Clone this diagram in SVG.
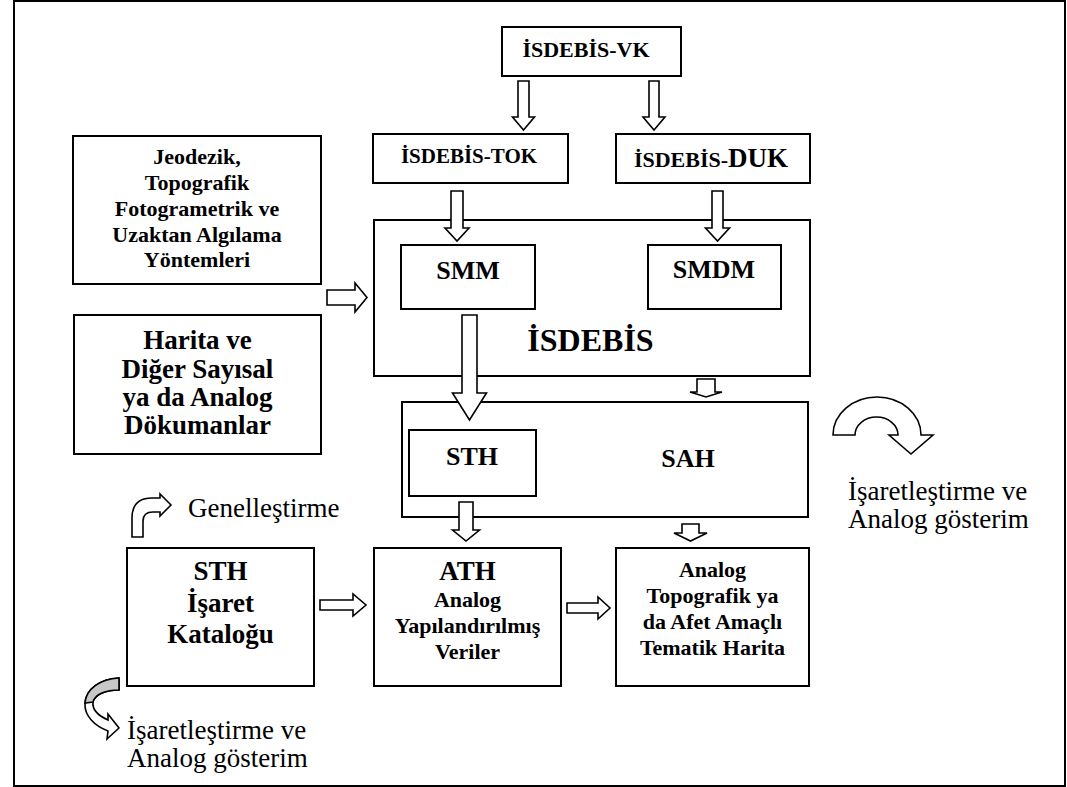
<svg xmlns="http://www.w3.org/2000/svg" width="1067" height="787" viewBox="0 0 1067 787">
  <style>
    .box { fill: #ffffff; stroke: #000000; stroke-width: 2; }
    .frame { fill: none; stroke: #000000; stroke-width: 2; }
    .arr { fill: #ffffff; stroke: #000000; stroke-width: 1.6; stroke-linejoin: miter; }
    .b { font-family: "Liberation Serif", "Times New Roman", serif; font-weight: bold; fill: #000000; text-anchor: middle; }
    .r { font-family: "Liberation Serif", "Times New Roman", serif; fill: #000000; }
    .s22 { font-size: 22px; }
    .s26 { font-size: 26px; }
    .s27 { font-size: 27px; }
  </style>
  <rect width="1067" height="787" fill="#ffffff"/>
  <rect class="frame" x="14" y="1" width="1051" height="785"/>

  <!-- containers first so inner nodes sit on top -->
  <g id="isdebis">
    <rect class="box" x="374" y="220" width="436" height="156"/>
    <text class="b" x="590.5" y="351" font-size="32">İSDEBİS</text>
  </g>
  <g id="sah">
    <rect class="box" x="402" y="402" width="406" height="115"/>
    <text class="b s26" x="688" y="467">SAH</text>
  </g>

  <g id="vk">
    <rect class="box" x="502" y="27" width="179" height="49"/>
    <text class="b s22" x="586" y="57">İSDEBİS-VK</text>
  </g>
  <g id="tok">
    <rect class="box" x="373" y="134" width="195" height="49"/>
    <text class="b" x="469" y="163" font-size="21">İSDEBİS-TOK</text>
  </g>
  <g id="duk">
    <rect class="box" x="616" y="134" width="194" height="49"/>
    <text class="b" x="711" y="167"><tspan font-size="22">İSDEBİS-</tspan><tspan font-size="27">DUK</tspan></text>
  </g>
  <g id="smm">
    <rect class="box" x="401" y="245" width="134" height="64"/>
    <text class="b s26" x="468" y="279">SMM</text>
  </g>
  <g id="smdm">
    <rect class="box" x="648" y="245" width="133" height="64"/>
    <text class="b s26" x="714" y="278">SMDM</text>
  </g>
  <g id="sth-inner">
    <rect class="box" x="409" y="430" width="127" height="66"/>
    <text class="b s26" x="472" y="465">STH</text>
  </g>

  <g id="jeodezik">
    <rect class="box" x="73" y="136" width="248" height="148"/>
    <text class="b s22" x="197" y="164">Jeodezik,</text>
    <text class="b s22" x="197" y="190">Topografik</text>
    <text class="b s22" x="197" y="216">Fotogrametrik ve</text>
    <text class="b s22" x="197" y="242">Uzaktan Algılama</text>
    <text class="b s22" x="197" y="267">Yöntemleri</text>
  </g>
  <g id="harita">
    <rect class="box" x="74" y="315" width="247" height="139"/>
    <text class="b s27" x="197.5" y="349">Harita ve</text>
    <text class="b s27" x="197.5" y="378">Diğer Sayısal</text>
    <text class="b s27" x="197.5" y="406">ya da Analog</text>
    <text class="b s27" x="197.5" y="434">Dökumanlar</text>
  </g>
  <g id="sth-katalog">
    <rect class="box" x="127" y="548" width="187" height="138"/>
    <text class="b s27" x="220.5" y="580">STH</text>
    <text class="b s27" x="220.5" y="612">İşaret</text>
    <text class="b s27" x="220.5" y="643">Kataloğu</text>
  </g>
  <g id="ath">
    <rect class="box" x="374" y="548" width="187" height="138"/>
    <text class="b s27" x="467.5" y="580">ATH</text>
    <text class="b s22" x="467.5" y="607">Analog</text>
    <text class="b s22" x="467.5" y="633">Yapılandırılmış</text>
    <text class="b s22" x="467.5" y="659">Veriler</text>
  </g>
  <g id="analog-harita">
    <rect class="box" x="616" y="548" width="193" height="138"/>
    <text class="b s22" x="712.5" y="577">Analog</text>
    <text class="b s22" x="712.5" y="603">Topografik ya</text>
    <text class="b s22" x="712.5" y="629">da Afet Amaçlı</text>
    <text class="b s22" x="712.5" y="655">Tematik Harita</text>
  </g>

  <g id="connectors">
    <!-- downward block arrows -->
    <path class="arr" d="M518,81 L529,81 L529,117 L534.5,117 L523.5,130 L512.5,117 L518,117 Z"/>
    <path class="arr" d="M649,81 L659,81 L659,117 L665,117 L654,130 L643,117 L649,117 Z"/>
    <path class="arr" d="M451,191 L463,191 L463,228 L469,228 L457,241 L445,228 L451,228 Z"/>
    <path class="arr" d="M712,191 L723,191 L723,228 L729.5,228 L717.5,241 L705.5,228 L712,228 Z"/>
    <path class="arr" d="M462,315 L477,315 L477,393 L486.5,393 L469.5,420 L452.5,393 L462,393 Z"/>
    <path class="arr" d="M697,379 L715,379 L715,392 L722,392 L706,397 L690,392 L697,392 Z"/>
    <path class="arr" d="M459,502 L473,502 L473,530 L479.5,530 L466,541 L452.5,530 L459,530 Z"/>
    <path class="arr" d="M682,524 L699,524 L699,533 L707,533 L690.5,541 L674,533 L682,533 Z"/>
    <!-- rightward block arrows -->
    <path class="arr" d="M327,290 L355,290 L355,283 L367,297.5 L355,312 L355,305 L327,305 Z"/>
    <path class="arr" d="M320,600 L353,600 L353,594 L366,605 L353,616 L353,610 L320,610 Z"/>
    <path class="arr" d="M567,603 L598,603 L598,597 L610,608 L598,619 L598,613 L567,613 Z"/>
    <!-- curved arrow: İşaretleştirme (right) -->
    <path class="arr" d="M833,435 A44,38 0 0 1 921,435 L933,435 L911,454 L889,435 L898,435 A21.5,18 0 0 0 855,435 Z"/>
    <!-- bent arrow: Genelleştirme -->
    <path class="arr" d="M132,537 L132,518 Q132,498 152,498 L160,498 L160,494 L171,505 L160,516 L160,512 L153,512 Q143,512 143,521 L143,537 Z"/>
    <!-- curved arrow with shaded back face: İşaretleştirme (left) -->
    <path class="arr" d="M119,678 C100,679 86,689 85,703 C84,716 95,726 108,731 L107,739 L119,728 L108,714 L108,720 C99,716 92,710 93,702 C95,694 106,690 119,690 Z"/>
    <path d="M119,678 C100,679 86,689 85,703 L93,702 C95,694 106,690 119,690 Z" fill="#c8c8c8" stroke="#000000" stroke-width="1.6"/>
  </g>

  <g id="labels">
    <text class="r s27" x="188" y="517">Genelleştirme</text>
    <text class="r s27" x="848" y="500">İşaretleştirme ve</text>
    <text class="r s27" x="848" y="528">Analog gösterim</text>
    <text class="r s27" x="127" y="739">İşaretleştirme ve</text>
    <text class="r s27" x="127" y="767">Analog gösterim</text>
  </g>
</svg>
